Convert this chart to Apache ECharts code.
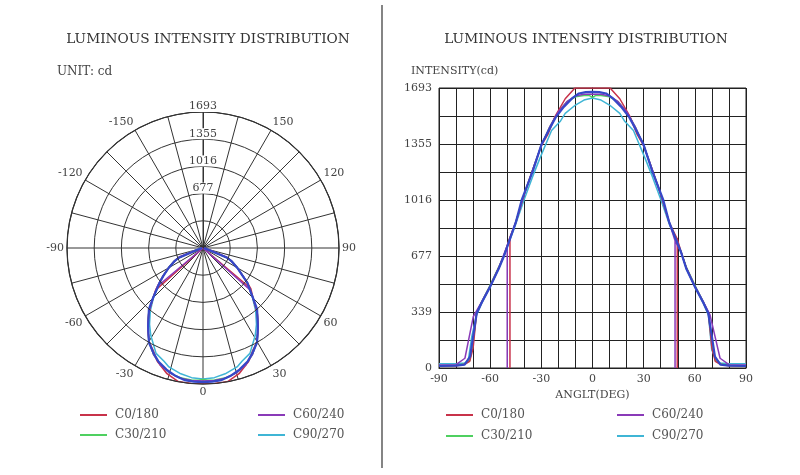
<!DOCTYPE html>
<html>
<head>
<meta charset="utf-8">
<script src="https://cdn.jsdelivr.net/npm/echarts@6/dist/echarts.min.js"></script>
<style>html,body{margin:0;padding:0;background:#fff}#c{width:800px;height:475px}</style>
</head>
<body>
<div id="c"></div>
<script>
// ---- data (angle in degrees, intensity in cd) ----
const seriesNames = ['C0/180', 'C30/210', 'C60/240', 'C90/270'];

const c0Angles = [-90, -80, -75, -72, -70, -68, -65, -60, -55, -52, -48.4, -48.4, -48.4, -45, -40, -35, -30, -26, -22, -16, -10.3, -5, 0, 5, 10.3, 16, 22, 26, 30, 35, 40, 45, 49.7, 49.7, 49.7, 52, 55, 60, 65, 68, 70, 72, 75, 80, 90];
const c0Values = [12, 14, 22, 40, 120, 330, 395, 495, 605, 677, 790, 0, 790, 880, 1050, 1200, 1345, 1416, 1520, 1628, 1693, 1693, 1693, 1693, 1693, 1628, 1520, 1416, 1345, 1200, 1050, 880, 780, 0, 780, 700, 605, 495, 395, 330, 120, 40, 22, 14, 12];

const c30Angles = [-90, -80, -75, -72, -70, -68, -65, -61, -55, -52, -45, -40, -35, -30, -25, -20, -15, -10, -5, -2, 0, 2, 5, 10, 15, 20, 25, 30, 35, 40, 45, 52, 55, 61, 65, 68, 70, 72, 75, 80, 90];
const c30Values = [14, 16, 24, 45, 150, 330, 400, 480, 610, 677, 880, 1050, 1200, 1345, 1460, 1550, 1610, 1640, 1648, 1648, 1636, 1648, 1648, 1640, 1610, 1550, 1460, 1345, 1200, 1050, 880, 700, 610, 480, 400, 330, 150, 45, 24, 16, 14];

const c60Angles = [-90, -80, -74.8, -69.9, -65, -60, -55, -50, -50, -50, -45, -40, -35, -30, -25, -20, -15, -10, -5, 0, 5, 10, 15, 20, 25, 30, 35, 40, 45, 48.4, 48.4, 48.4, 52, 55, 60, 65, 68.9, 74.8, 80, 90];
const c60Values = [18, 20, 59, 311, 400, 495, 605, 740, 0, 740, 880, 1050, 1200, 1345, 1460, 1550, 1610, 1645, 1655, 1655, 1655, 1645, 1610, 1550, 1460, 1345, 1200, 1050, 880, 770, 0, 770, 700, 605, 495, 400, 321, 59, 20, 18];

const c90Angles = [-90, -80, -75, -72.8, -70.8, -68, -65, -60, -55, -52, -45, -40, -35, -30.8, -24, -19, -16, -10, -5, 0, 5, 10, 16, 19, 24, 30.8, 35, 40, 45, 52, 55, 60, 65, 68, 69.9, 72.8, 75, 80, 90];
const c90Values = [25, 26, 30, 48, 190, 320, 390, 490, 600, 677, 870, 1020, 1160, 1269, 1436, 1490, 1540, 1590, 1620, 1632, 1620, 1590, 1540, 1490, 1436, 1269, 1160, 1020, 870, 700, 600, 490, 390, 320, 109, 48, 30, 26, 25];

// dominant blue trace seen in the picture (not listed in the legend)
const blueAngles = [-90, -80, -75, -73.8, -71.8, -67.9, -65, -60, -55, -51.9, -45, -41.5, -35, -29.8, -25, -21.6, -16.7, -12, -8, -4, 0, 4, 8, 12, 16.7, 21.6, 25, 29.8, 35, 41.5, 45, 51.9, 55, 60, 65, 67.9, 71.8, 73.8, 75, 80, 90];
const blueValues = [12, 14, 20, 38, 69, 331, 395, 492, 600, 677, 880, 1016, 1190, 1355, 1450, 1515, 1580, 1630, 1660, 1668, 1670, 1668, 1660, 1630, 1580, 1515, 1450, 1355, 1190, 1016, 880, 700, 600, 492, 395, 331, 69, 38, 20, 14, 12];

const intensityTickLabels = ['0', '339', '677', '1016', '1355', '1693'];
const polarRadiusLabels = ['', '', '677', '1016', '1355', '1693'];
const angleLabelValues = [-150, -120, -90, -60, -30, 0, 30, 60, 90, 120, 150];
const angleTickLabels = ['-90', '-60', '-30', '0', '30', '60', '90'];

// ---- styling ----
const FONT = 'DejaVu Serif';
const TXT = '#444';
const colors = {
  'C0/180': '#c8324a',
  'C30/210': '#4fd060',
  'C60/240': '#8a3ab8',
  'C90/270': '#3fb5d5',
  'blue': '#3548c8'
};
const MAXI = 1693;

const traces = [
  { name: 'C90/270', a: c90Angles, v: c90Values, w: 1.5 },
  { name: 'C30/210', a: c30Angles, v: c30Values, w: 1.5 },
  { name: 'C0/180', a: c0Angles, v: c0Values, w: 1.5 },
  { name: 'C60/240', a: c60Angles, v: c60Values, w: 1.5 },
  { name: 'blue', a: blueAngles, v: blueValues, w: 2.2 }
];

const series = [];
traces.forEach(t => {
  series.push({
    type: 'line', name: t.name === 'blue' ? '' : t.name,
    coordinateSystem: 'polar', polarIndex: 0,
    data: t.a.map((x, i) => [t.v[i], x]),
    showSymbol: false, symbol: 'none',
    lineStyle: { width: t.w, color: colors[t.name] },
    itemStyle: { color: colors[t.name] },
    animation: false, silent: true
  });
  series.push({
    type: 'line', name: t.name === 'blue' ? '' : t.name,
    xAxisIndex: 0, yAxisIndex: 0,
    data: t.a.map((x, i) => [x, t.v[i]]),
    showSymbol: false, symbol: 'none',
    lineStyle: { width: t.w, color: colors[t.name] },
    itemStyle: { color: colors[t.name] },
    animation: false, silent: true
  });
});

function legendItem(name, left, top) {
  return {
    data: [name], left: left, top: top, padding: 0,
    icon: 'rect', itemWidth: 27, itemHeight: 2,
    selectedMode: false,
    textStyle: { fontFamily: FONT, fontSize: 12, color: '#555', padding: [0, 0, 0, 3] }
  };
}

const option = {
  backgroundColor: '#fff',
  animation: false,
  title: [
    { text: 'LUMINOUS INTENSITY DISTRIBUTION', left: 203, top: 27, textAlign: 'center',
      textStyle: { fontFamily: FONT, fontSize: 13.7, fontWeight: 'normal', color: '#333' } },
    { text: 'LUMINOUS INTENSITY DISTRIBUTION', left: 581, top: 27, textAlign: 'center',
      textStyle: { fontFamily: FONT, fontSize: 13.7, fontWeight: 'normal', color: '#333' } },
    { text: 'UNIT: cd', left: 52, top: 61,
      textStyle: { fontFamily: FONT, fontSize: 12, fontWeight: 'normal', color: TXT } },
    { text: 'INTENSITY(cd)', left: 406, top: 61,
      textStyle: { fontFamily: FONT, fontSize: 11, fontWeight: 'normal', color: TXT } }
  ],
  legend: [
    legendItem('C0/180', 80, 409),
    legendItem('C60/240', 258, 409),
    legendItem('C30/210', 80, 429),
    legendItem('C90/270', 258, 429),
    legendItem('C0/180', 446, 409),
    legendItem('C60/240', 617, 409),
    legendItem('C30/210', 446, 430),
    legendItem('C90/270', 617, 430)
  ],
  polar: { center: [203, 248], radius: 136 },
  angleAxis: {
    type: 'value', min: -180, max: 180, interval: 15,
    startAngle: 90, clockwise: false,
    axisLine: { show: true, lineStyle: { color: '#222', width: 1.2 } },
    axisTick: { show: false },
    splitLine: { show: true, lineStyle: { color: '#333', width: 1 } },
    axisLabel: {
      margin: 3, color: TXT, fontFamily: FONT, fontSize: 11,
      formatter: v => angleLabelValues.indexOf(Math.round(v)) >= 0 ? String(Math.round(v)) : ''
    }
  },
  radiusAxis: {
    type: 'value', min: 0, max: MAXI, interval: MAXI / 5,
    axisLine: { show: true, lineStyle: { color: '#333', width: 1 } },
    axisTick: { show: false },
    splitLine: { show: true, lineStyle: { color: '#333', width: 1 } },
    axisLabel: {
      margin: 0, align: 'center', verticalAlign: 'bottom',
      backgroundColor: '#fff', padding: [0, 1, 0, 1],
      color: TXT, fontFamily: FONT, fontSize: 11,
      formatter: v => polarRadiusLabels[Math.round(v / (MAXI / 5))] || ''
    },
    z: 5
  },
  grid: { left: 439, right: 54, top: 88, bottom: 107, show: true, borderColor: '#222', borderWidth: 1 },
  xAxis: {
    type: 'value', min: -90, max: 90, interval: 10,
    axisLine: { show: true, lineStyle: { color: '#222' } },
    axisTick: { show: false },
    splitLine: { show: true, lineStyle: { color: '#222', width: 1 } },
    axisLabel: {
      margin: 6, color: TXT, fontFamily: FONT, fontSize: 11,
      formatter: v => {
        const r = Math.round(v);
        return r % 30 === 0 ? angleTickLabels[(r + 90) / 30] : '';
      }
    },
    name: 'ANGLT(DEG)', nameLocation: 'middle', nameGap: 22,
    nameTextStyle: { color: TXT, fontFamily: FONT, fontSize: 11 }
  },
  yAxis: {
    type: 'value', min: 0, max: MAXI, interval: MAXI / 10,
    axisLine: { show: true, lineStyle: { color: '#222' } },
    axisTick: { show: false },
    splitLine: { show: true, lineStyle: { color: '#222', width: 1 } },
    axisLabel: {
      margin: 7, color: TXT, fontFamily: FONT, fontSize: 11,
      formatter: v => {
        const k = Math.round(v / (MAXI / 10));
        return k % 2 === 0 ? intensityTickLabels[k / 2] : '';
      }
    }
  },
  graphic: [
    { type: 'line', shape: { x1: 382, y1: 5, x2: 382, y2: 468 }, style: { stroke: '#333', lineWidth: 1.2 }, silent: true }
  ],
  series: series
};

const chart = echarts.init(document.getElementById('c'), null, { renderer: 'canvas' });
chart.setOption(option);
</script>
</body>
</html>
